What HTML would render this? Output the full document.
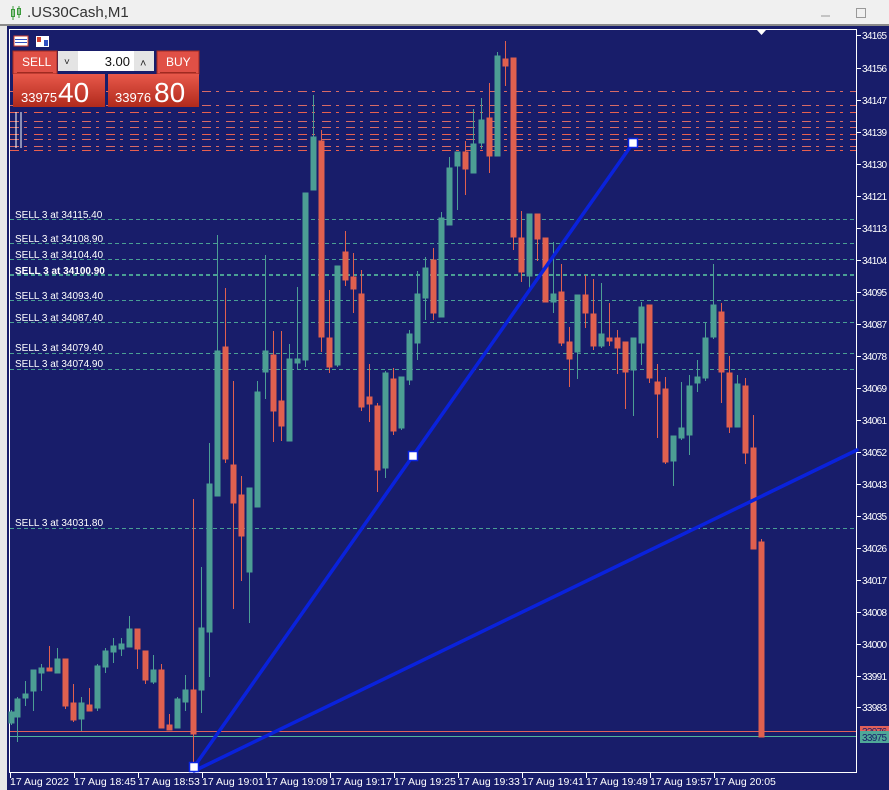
<!DOCTYPE html>
<html><head><meta charset="utf-8"><style>
html,body{margin:0;padding:0;width:889px;height:790px;overflow:hidden;background:#181d6a;font-family:"Liberation Sans",sans-serif}
svg{position:absolute;left:0;top:0}
</style></head><body>
<svg width="889" height="790" xmlns="http://www.w3.org/2000/svg" font-family="Liberation Sans, sans-serif">
<rect x="0" y="0" width="889" height="790" fill="#181d6a"/>
<rect x="0" y="0" width="889" height="25" fill="#f0f0f0"/>
<rect x="0" y="24" width="889" height="2" fill="#8a8a8a"/>
<rect x="0" y="26" width="7" height="764" fill="#e8e8e8"/>
<!-- title -->
<g stroke="#3a9a3a" fill="none" stroke-width="1"><rect x="11.5" y="9.5" width="3" height="7"/><line x1="13" y1="6" x2="13" y2="20"/><rect x="17.5" y="8.5" width="3" height="6"/><line x1="19" y1="6" x2="19" y2="18"/></g>
<text x="27" y="17" font-size="15" fill="#333">.US30Cash,M1</text>
<line x1="821" y1="16" x2="830" y2="16" stroke="#999"/>
<rect x="856.5" y="8.5" width="9" height="9" fill="none" stroke="#999"/>
<!-- chart frame -->
<rect x="9.5" y="29.5" width="847" height="743" fill="none" stroke="#fff"/>
<polygon points="757,30 766,30 761.5,35" fill="#fff"/>
<!-- red dashed lines -->
<g stroke="#e8604f" stroke-width="1" stroke-dasharray="9 5 3 7">
<line x1="10" y1="91.5" x2="856" y2="91.5" stroke="#d86a66"/>
<line x1="10" y1="105.5" x2="856" y2="105.5" stroke="#d86a66"/>
<line x1="10" y1="112.5" x2="856" y2="112.5"/>
<line x1="10" y1="121.5" x2="856" y2="121.5" stroke="#d86a66"/>
<line x1="10" y1="127.5" x2="856" y2="127.5" stroke="#d86a66"/>
<line x1="10" y1="134.5" x2="856" y2="134.5"/>
<line x1="10" y1="139.5" x2="856" y2="139.5" stroke="#d86a66"/>
<line x1="10" y1="146.5" x2="856" y2="146.5" stroke="#d86a66"/>
<line x1="10" y1="150.5" x2="856" y2="150.5"/>
</g>
<g stroke="#fff" stroke-width="1"><line x1="16" y1="112" x2="16" y2="148"/><line x1="21" y1="112" x2="21" y2="148"/></g>
<!-- green dashed -->
<g stroke="#4a9f94" stroke-width="1" stroke-dasharray="4 3">
<line x1="10" y1="219.5" x2="856" y2="219.5"/>
<line x1="10" y1="243.5" x2="856" y2="243.5"/>
<line x1="10" y1="259.5" x2="856" y2="259.5"/>
<line x1="10" y1="275" x2="856" y2="275" stroke-width="2"/>
<line x1="10" y1="300.5" x2="856" y2="300.5"/>
<line x1="10" y1="322.5" x2="856" y2="322.5"/>
<line x1="10" y1="353.5" x2="856" y2="353.5"/>
<line x1="10" y1="369.5" x2="856" y2="369.5"/>
<line x1="10" y1="528.5" x2="856" y2="528.5"/>
</g>
<g fill="#fff" font-size="10">
<text x="15" y="218">SELL 3 at 34115.40</text>
<text x="15" y="242">SELL 3 at 34108.90</text>
<text x="15" y="258">SELL 3 at 34104.40</text>
<text x="15" y="274" font-weight="bold">SELL 3 at 34100.90</text>
<text x="15" y="299">SELL 3 at 34093.40</text>
<text x="15" y="321">SELL 3 at 34087.40</text>
<text x="15" y="351">SELL 3 at 34079.40</text>
<text x="15" y="367">SELL 3 at 34074.90</text>
<text x="15" y="526">SELL 3 at 34031.80</text>
</g>
<!-- bid/ask lines -->
<line x1="10" y1="731.5" x2="856" y2="731.5" stroke="#e0605a"/>
<line x1="10" y1="736.5" x2="856" y2="736.5" stroke="#4fb59a"/>
<!-- candles -->
<g stroke-width="1">
<g stroke="#4c9e94" fill="#4c9e94">
<line x1="11.5" y1="710" x2="11.5" y2="725"/><rect x="9" y="712" width="5" height="11"/>
<line x1="17.5" y1="697" x2="17.5" y2="742"/><rect x="15" y="699" width="5" height="18"/>
<line x1="25.5" y1="681" x2="25.5" y2="706"/><rect x="23" y="694" width="5" height="4"/>
<line x1="33.5" y1="670" x2="33.5" y2="711"/><rect x="31" y="670" width="5" height="21"/>
<line x1="41.5" y1="664" x2="41.5" y2="691"/><rect x="39" y="668" width="5" height="5"/>
<line x1="57.5" y1="648" x2="57.5" y2="673"/><rect x="55" y="659" width="5" height="14"/>
<line x1="81.5" y1="697" x2="81.5" y2="731"/><rect x="79" y="703" width="5" height="16"/>
<line x1="97.5" y1="664" x2="97.5" y2="711"/><rect x="95" y="666" width="5" height="42"/>
<line x1="105.5" y1="648" x2="105.5" y2="673"/><rect x="103" y="651" width="5" height="16"/>
<line x1="113.5" y1="638" x2="113.5" y2="663"/><rect x="111" y="646" width="5" height="6"/>
<line x1="121.5" y1="638" x2="121.5" y2="656"/><rect x="119" y="644" width="5" height="5"/>
<line x1="129.5" y1="616" x2="129.5" y2="647"/><rect x="127" y="629" width="5" height="18"/>
<line x1="153.5" y1="655" x2="153.5" y2="684"/><rect x="151" y="670" width="5" height="12"/>
<line x1="177.5" y1="697" x2="177.5" y2="728"/><rect x="175" y="699" width="5" height="29"/>
<line x1="185.5" y1="675" x2="185.5" y2="711"/><rect x="183" y="690" width="5" height="12"/>
<line x1="201.5" y1="567" x2="201.5" y2="713"/><rect x="199" y="628" width="5" height="62"/>
<line x1="209.5" y1="443" x2="209.5" y2="677"/><rect x="207" y="484" width="5" height="148"/>
<line x1="217.5" y1="235" x2="217.5" y2="496"/><rect x="215" y="351" width="5" height="145"/>
<line x1="249.5" y1="488" x2="249.5" y2="623"/><rect x="247" y="488" width="5" height="84"/>
<line x1="257.5" y1="381" x2="257.5" y2="507"/><rect x="255" y="392" width="5" height="115"/>
<line x1="265.5" y1="255" x2="265.5" y2="399"/><rect x="263" y="351" width="5" height="21"/>
<line x1="289.5" y1="344" x2="289.5" y2="441"/><rect x="287" y="359" width="5" height="82"/>
<line x1="297.5" y1="287" x2="297.5" y2="369"/><rect x="295" y="359" width="5" height="4"/>
<line x1="305.5" y1="193" x2="305.5" y2="367"/><rect x="303" y="193" width="5" height="167"/>
<line x1="313.5" y1="95" x2="313.5" y2="190"/><rect x="311" y="137" width="5" height="53"/>
<line x1="337.5" y1="266" x2="337.5" y2="367"/><rect x="335" y="266" width="5" height="99"/>
<line x1="385.5" y1="371" x2="385.5" y2="478"/><rect x="383" y="373" width="5" height="95"/>
<line x1="401.5" y1="377" x2="401.5" y2="430"/><rect x="399" y="377" width="5" height="51"/>
<line x1="409.5" y1="330" x2="409.5" y2="385"/><rect x="407" y="334" width="5" height="46"/>
<line x1="417.5" y1="271" x2="417.5" y2="360"/><rect x="415" y="294" width="5" height="49"/>
<line x1="425.5" y1="257" x2="425.5" y2="320"/><rect x="423" y="268" width="5" height="30"/>
<line x1="441.5" y1="212" x2="441.5" y2="317"/><rect x="439" y="218" width="5" height="99"/>
<line x1="449.5" y1="157" x2="449.5" y2="225"/><rect x="447" y="168" width="5" height="57"/>
<line x1="457.5" y1="152" x2="457.5" y2="210"/><rect x="455" y="152" width="5" height="14"/>
<line x1="473.5" y1="109" x2="473.5" y2="173"/><rect x="471" y="144" width="5" height="29"/>
<line x1="481.5" y1="98" x2="481.5" y2="149"/><rect x="479" y="120" width="5" height="23"/>
<line x1="497.5" y1="52" x2="497.5" y2="156"/><rect x="495" y="56" width="5" height="100"/>
<line x1="529.5" y1="214" x2="529.5" y2="289"/><rect x="527" y="214" width="5" height="62"/>
<line x1="553.5" y1="242" x2="553.5" y2="313"/><rect x="551" y="294" width="5" height="8"/>
<line x1="577.5" y1="295" x2="577.5" y2="379"/><rect x="575" y="295" width="5" height="57"/>
<line x1="601.5" y1="283" x2="601.5" y2="348"/><rect x="599" y="334" width="5" height="12"/>
<line x1="633.5" y1="338" x2="633.5" y2="416"/><rect x="631" y="338" width="5" height="32"/>
<line x1="641.5" y1="302" x2="641.5" y2="365"/><rect x="639" y="307" width="5" height="36"/>
<line x1="673.5" y1="436" x2="673.5" y2="486"/><rect x="671" y="436" width="5" height="25"/>
<line x1="681.5" y1="382" x2="681.5" y2="440"/><rect x="679" y="428" width="5" height="10"/>
<line x1="689.5" y1="375" x2="689.5" y2="455"/><rect x="687" y="386" width="5" height="49"/>
<line x1="697.5" y1="360" x2="697.5" y2="392"/><rect x="695" y="377" width="5" height="6"/>
<line x1="705.5" y1="323" x2="705.5" y2="381"/><rect x="703" y="338" width="5" height="40"/>
<line x1="713.5" y1="264" x2="713.5" y2="339"/><rect x="711" y="305" width="5" height="32"/>
<line x1="737.5" y1="375" x2="737.5" y2="427"/><rect x="735" y="384" width="5" height="43"/>
</g>
<g stroke="#e0604f" fill="#e0604f">
<line x1="49.5" y1="646" x2="49.5" y2="671"/><rect x="47" y="668" width="5" height="3"/>
<line x1="65.5" y1="659" x2="65.5" y2="709"/><rect x="63" y="659" width="5" height="47"/>
<line x1="73.5" y1="684" x2="73.5" y2="722"/><rect x="71" y="703" width="5" height="17"/>
<line x1="89.5" y1="688" x2="89.5" y2="711"/><rect x="87" y="705" width="5" height="6"/>
<line x1="137.5" y1="629" x2="137.5" y2="669"/><rect x="135" y="629" width="5" height="20"/>
<line x1="145.5" y1="651" x2="145.5" y2="684"/><rect x="143" y="651" width="5" height="29"/>
<line x1="161.5" y1="664" x2="161.5" y2="728"/><rect x="159" y="670" width="5" height="58"/>
<line x1="169.5" y1="714" x2="169.5" y2="730"/><rect x="167" y="725" width="5" height="5"/>
<line x1="193.5" y1="499" x2="193.5" y2="767"/><rect x="191" y="690" width="5" height="44"/>
<line x1="225.5" y1="288" x2="225.5" y2="463"/><rect x="223" y="347" width="5" height="112"/>
<line x1="233.5" y1="381" x2="233.5" y2="609"/><rect x="231" y="465" width="5" height="38"/>
<line x1="241.5" y1="476" x2="241.5" y2="581"/><rect x="239" y="495" width="5" height="41"/>
<line x1="273.5" y1="331" x2="273.5" y2="442"/><rect x="271" y="355" width="5" height="56"/>
<line x1="281.5" y1="331" x2="281.5" y2="441"/><rect x="279" y="401" width="5" height="25"/>
<line x1="321.5" y1="130" x2="321.5" y2="352"/><rect x="319" y="141" width="5" height="196"/>
<line x1="329.5" y1="290" x2="329.5" y2="373"/><rect x="327" y="338" width="5" height="29"/>
<line x1="345.5" y1="231" x2="345.5" y2="286"/><rect x="343" y="252" width="5" height="28"/>
<line x1="353.5" y1="253" x2="353.5" y2="313"/><rect x="351" y="277" width="5" height="12"/>
<line x1="361.5" y1="270" x2="361.5" y2="411"/><rect x="359" y="294" width="5" height="113"/>
<line x1="369.5" y1="364" x2="369.5" y2="422"/><rect x="367" y="397" width="5" height="7"/>
<line x1="377.5" y1="403" x2="377.5" y2="492"/><rect x="375" y="406" width="5" height="64"/>
<line x1="393.5" y1="368" x2="393.5" y2="435"/><rect x="391" y="379" width="5" height="52"/>
<line x1="433.5" y1="248" x2="433.5" y2="320"/><rect x="431" y="260" width="5" height="53"/>
<line x1="465.5" y1="141" x2="465.5" y2="195"/><rect x="463" y="152" width="5" height="17"/>
<line x1="489.5" y1="83" x2="489.5" y2="173"/><rect x="487" y="118" width="5" height="38"/>
<line x1="505.5" y1="41" x2="505.5" y2="86"/><rect x="503" y="59" width="5" height="7"/>
<line x1="513.5" y1="58" x2="513.5" y2="250"/><rect x="511" y="58" width="5" height="179"/>
<line x1="521.5" y1="211" x2="521.5" y2="282"/><rect x="519" y="238" width="5" height="34"/>
<line x1="537.5" y1="214" x2="537.5" y2="261"/><rect x="535" y="214" width="5" height="25"/>
<line x1="545.5" y1="238" x2="545.5" y2="302"/><rect x="543" y="238" width="5" height="64"/>
<line x1="561.5" y1="264" x2="561.5" y2="346"/><rect x="559" y="292" width="5" height="51"/>
<line x1="569.5" y1="327" x2="569.5" y2="387"/><rect x="567" y="342" width="5" height="17"/>
<line x1="585.5" y1="275" x2="585.5" y2="328"/><rect x="583" y="295" width="5" height="18"/>
<line x1="593.5" y1="279" x2="593.5" y2="350"/><rect x="591" y="314" width="5" height="32"/>
<line x1="609.5" y1="303" x2="609.5" y2="346"/><rect x="607" y="338" width="5" height="3"/>
<line x1="617.5" y1="330" x2="617.5" y2="374"/><rect x="615" y="338" width="5" height="10"/>
<line x1="625.5" y1="342" x2="625.5" y2="409"/><rect x="623" y="342" width="5" height="30"/>
<line x1="649.5" y1="305" x2="649.5" y2="383"/><rect x="647" y="305" width="5" height="73"/>
<line x1="657.5" y1="364" x2="657.5" y2="438"/><rect x="655" y="382" width="5" height="12"/>
<line x1="665.5" y1="377" x2="665.5" y2="464"/><rect x="663" y="389" width="5" height="73"/>
<line x1="721.5" y1="303" x2="721.5" y2="403"/><rect x="719" y="312" width="5" height="60"/>
<line x1="729.5" y1="356" x2="729.5" y2="433"/><rect x="727" y="373" width="5" height="54"/>
<line x1="745.5" y1="378" x2="745.5" y2="464"/><rect x="743" y="386" width="5" height="67"/>
<line x1="753.5" y1="415" x2="753.5" y2="549"/><rect x="751" y="448" width="5" height="101"/>
<line x1="761.5" y1="539" x2="761.5" y2="737"/><rect x="759" y="542" width="5" height="195"/>
</g>
</g>
<!-- blue trend lines -->
<g stroke="#0a22dc" stroke-width="3.5" stroke-linecap="round">
<line x1="194" y1="767" x2="633" y2="143"/>
<line x1="194" y1="771" x2="857" y2="450"/>
</g>
<g fill="#fff" stroke="#0a24e0" stroke-width="1.5">
<rect x="189.5" y="762.5" width="9" height="9"/>
<rect x="408.5" y="451.5" width="9" height="9"/>
<rect x="628.5" y="138.5" width="9" height="9"/>
</g>
<!-- right axis -->
<g fill="#fff" font-size="10">
<g stroke="#fff"><line x1="857" y1="35.5" x2="861" y2="35.5"/><line x1="857" y1="68.5" x2="861" y2="68.5"/><line x1="857" y1="100.5" x2="861" y2="100.5"/><line x1="857" y1="132.5" x2="861" y2="132.5"/><line x1="857" y1="164.5" x2="861" y2="164.5"/><line x1="857" y1="196.5" x2="861" y2="196.5"/><line x1="857" y1="228.5" x2="861" y2="228.5"/><line x1="857" y1="260.5" x2="861" y2="260.5"/><line x1="857" y1="292.5" x2="861" y2="292.5"/><line x1="857" y1="324.5" x2="861" y2="324.5"/><line x1="857" y1="356.5" x2="861" y2="356.5"/><line x1="857" y1="388.5" x2="861" y2="388.5"/><line x1="857" y1="420.5" x2="861" y2="420.5"/><line x1="857" y1="452.5" x2="861" y2="452.5"/><line x1="857" y1="484.5" x2="861" y2="484.5"/><line x1="857" y1="516.5" x2="861" y2="516.5"/><line x1="857" y1="548.5" x2="861" y2="548.5"/><line x1="857" y1="580.5" x2="861" y2="580.5"/><line x1="857" y1="612.5" x2="861" y2="612.5"/><line x1="857" y1="644.5" x2="861" y2="644.5"/><line x1="857" y1="676.5" x2="861" y2="676.5"/><line x1="857" y1="707.5" x2="861" y2="707.5"/></g>
<g textLength="25" lengthAdjust="spacingAndGlyphs">
<text x="862" y="39" textLength="25">34165</text><text x="862" y="72" textLength="25">34156</text><text x="862" y="104" textLength="25">34147</text><text x="862" y="136" textLength="25">34139</text><text x="862" y="168" textLength="25">34130</text><text x="862" y="200" textLength="25">34121</text><text x="862" y="232" textLength="25">34113</text><text x="862" y="264" textLength="25">34104</text><text x="862" y="296" textLength="25">34095</text><text x="862" y="328" textLength="25">34087</text><text x="862" y="360" textLength="25">34078</text><text x="862" y="392" textLength="25">34069</text><text x="862" y="424" textLength="25">34061</text><text x="862" y="456" textLength="25">34052</text><text x="862" y="488" textLength="25">34043</text><text x="862" y="520" textLength="25">34035</text><text x="862" y="552" textLength="25">34026</text><text x="862" y="584" textLength="25">34017</text><text x="862" y="616" textLength="25">34008</text><text x="862" y="648" textLength="25">34000</text><text x="862" y="680" textLength="25">33991</text><text x="862" y="711" textLength="25">33983</text>
</g>
</g>
<rect x="860" y="726" width="29" height="10" fill="#e0605a"/>
<text x="862" y="735" font-size="10" fill="#181d6a" textLength="25">33976</text>
<rect x="860" y="731" width="29" height="12" fill="#4fa898"/>
<text x="862" y="741" font-size="10" fill="#181d6a" textLength="25">33975</text>
<!-- bottom axis -->
<g stroke="#fff"><line x1="10.5" y1="773" x2="10.5" y2="778"/><line x1="74.5" y1="773" x2="74.5" y2="778"/><line x1="138.5" y1="773" x2="138.5" y2="778"/><line x1="202.5" y1="773" x2="202.5" y2="778"/><line x1="266.5" y1="773" x2="266.5" y2="778"/><line x1="330.5" y1="773" x2="330.5" y2="778"/><line x1="394.5" y1="773" x2="394.5" y2="778"/><line x1="458.5" y1="773" x2="458.5" y2="778"/><line x1="522.5" y1="773" x2="522.5" y2="778"/><line x1="586.5" y1="773" x2="586.5" y2="778"/><line x1="650.5" y1="773" x2="650.5" y2="778"/><line x1="714.5" y1="773" x2="714.5" y2="778"/></g>
<g fill="#fff" font-size="10.5">
<text x="10" y="785">17 Aug 2022</text><text x="74" y="785">17 Aug 18:45</text><text x="138" y="785">17 Aug 18:53</text><text x="202" y="785">17 Aug 19:01</text><text x="266" y="785">17 Aug 19:09</text><text x="330" y="785">17 Aug 19:17</text><text x="394" y="785">17 Aug 19:25</text><text x="458" y="785">17 Aug 19:33</text><text x="522" y="785">17 Aug 19:41</text><text x="586" y="785">17 Aug 19:49</text><text x="650" y="785">17 Aug 19:57</text><text x="714" y="785">17 Aug 20:05</text>
</g>
<!-- trade panel -->
<rect x="14" y="36" width="14" height="10" fill="#fff" stroke="#d04030"/>
<g stroke="#3050c0"><line x1="15" y1="39.5" x2="27" y2="39.5"/><line x1="15" y1="42.5" x2="27" y2="42.5"/></g>
<rect x="36" y="36" width="13" height="11" fill="#fff"/><rect x="37" y="37" width="4" height="5" fill="#d04030"/><rect x="44" y="40" width="4" height="6" fill="#3050c0"/>
<defs><linearGradient id="rg" x1="0" y1="0" x2="0" y2="1"><stop offset="0" stop-color="#e8584a"/><stop offset="1" stop-color="#b02a1c"/></linearGradient></defs>
<rect x="13" y="51" width="44" height="23" fill="#e05046" stroke="#a02a20"/>
<text x="22" y="66" font-size="12" fill="#fff">SELL</text>
<line x1="17" y1="72.5" x2="53" y2="72.5" stroke="#a02a20"/>
<rect x="58" y="51" width="20" height="20" fill="#e4e4e4"/>
<text x="64" y="65" font-size="10" fill="#222">˅</text>
<rect x="78" y="51" width="56" height="20" fill="#fff"/>
<text x="130" y="66" font-size="13" fill="#111" text-anchor="end">3.00</text>
<rect x="134" y="51" width="20" height="20" fill="#e4e4e4"/>
<text x="140" y="67" font-size="11" fill="#222">˄</text>
<rect x="157" y="51" width="42" height="23" fill="#e05046" stroke="#a02a20"/>
<text x="166" y="66" font-size="12" fill="#fff">BUY</text>
<line x1="160" y1="72.5" x2="196" y2="72.5" stroke="#a02a20"/>
<rect x="13" y="74" width="92" height="33" fill="url(#rg)"/>
<text x="21" y="102" font-size="13" fill="#fff">33975</text>
<text x="58" y="102" font-size="28" fill="#fff">40</text>
<rect x="108" y="74" width="91" height="33" fill="url(#rg)"/>
<text x="115" y="102" font-size="13" fill="#fff">33976</text>
<text x="154" y="102" font-size="28" fill="#fff">80</text>
</svg>
</body></html>
